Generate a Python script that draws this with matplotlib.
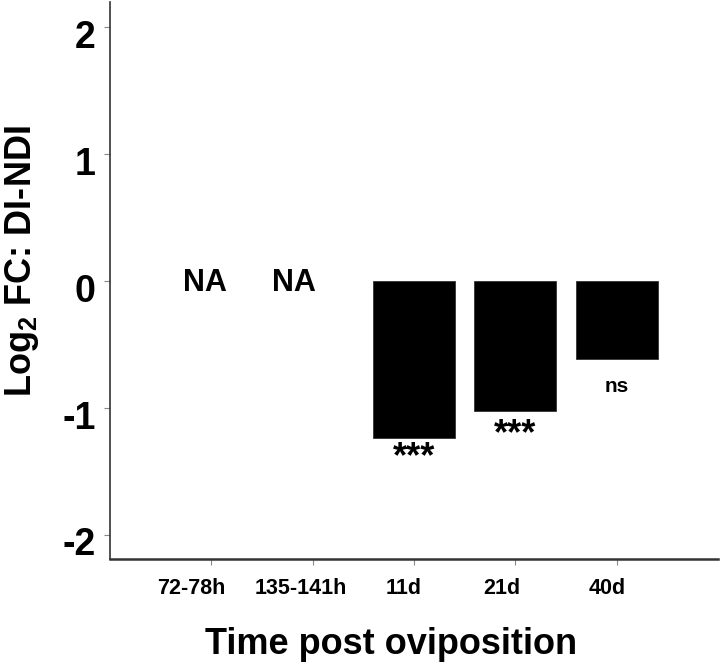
import matplotlib
matplotlib.use("Agg")
import matplotlib.pyplot as plt
from matplotlib.transforms import ScaledTranslation

plt.rcParams['font.family'] = ['Liberation Sans', 'DejaVu Sans']
plt.rcParams['font.weight'] = 'bold'
plt.rcParams['mathtext.fontset'] = 'custom'
plt.rcParams['mathtext.rm'] = 'Liberation Sans:bold'
plt.rcParams['mathtext.bf'] = 'Liberation Sans:bold'
plt.rcParams['mathtext.default'] = 'bf'

# ---- data ----
categories = ["72-78h", "135-141h", "11d", "21d", "40d"]
log2fc = [None, None, -1.24, -1.02, -0.61]
significance = ["NA", "NA", "***", "***", "ns"]
yticks = [-2, -1, 0, 1, 2]

# ---- layout ----
W, H = 720, 665
fig = plt.figure(figsize=(W / 100, H / 100), dpi=100)
ax = fig.add_axes([110 / W, 1 - 559 / H, 608 / W, 557 / H])

positions = list(range(1, len(categories) + 1))
bar_x = [p for p, v in zip(positions, log2fc) if v is not None]
bar_v = [v for v in log2fc if v is not None]
ax.bar(bar_x, bar_v, width=0.81, color='black', edgecolor='#333333', linewidth=0.6)

ax.set_xlim(0, 6)
ax.set_ylim(-2.19, 2.2)

# annotations
na_dx = [-0.06, -0.18]
na_i = 0
for p, v, s in zip(positions, log2fc, significance):
    if v is None:
        ax.annotate(s, xy=(p + na_dx[na_i], 0), xytext=(0, -7), textcoords='offset points',
                    ha='center', va='baseline', fontsize=22, fontweight='bold')
        na_i += 1
    elif s == "ns":
        ax.annotate(s, xy=(p, v), xytext=(0, -24), textcoords='offset points',
                    ha='center', va='baseline', fontsize=15, fontweight='bold')
    else:
        dy = -20.5 if v < -1.1 else -24
        ax.annotate(s, xy=(p, v), xytext=(0, dy), textcoords='offset points',
                    ha='center', va='baseline', fontsize=26, fontweight='bold')

# ticks
ax.set_xticks(positions)
ax.set_xticklabels(categories, fontsize=15.5, fontweight='bold')
ax.set_yticks(yticks)
ax.set_yticklabels([str(t) for t in yticks], fontsize=27, fontweight='bold')
ax.tick_params(axis='both', color='#888888', length=4.5, width=0.8)
ax.tick_params(axis='y', pad=6)
ax.tick_params(axis='x', pad=9)

xlab_dx = [-14.4, -8.6, -7.2, -10, -6.5]
for lab, dx in zip(ax.get_xticklabels(), xlab_dx):
    lab.set_transform(lab.get_transform() + ScaledTranslation(dx / 72, 0, fig.dpi_scale_trans))
for lab in ax.get_yticklabels():
    lab.set_transform(lab.get_transform() + ScaledTranslation(0, -4.7 / 72, fig.dpi_scale_trans))

for side in ['top', 'right']:
    ax.spines[side].set_visible(False)
ax.spines['left'].set_color('#333333')
ax.spines['left'].set_linewidth(1.2)
ax.spines['bottom'].set_color('#333333')
ax.spines['bottom'].set_linewidth(1.8)

ax.set_xlabel("Time post oviposition", fontsize=26, fontweight='bold', labelpad=20, x=0.462)
ax.set_ylabel(r"Log$_2$ FC: DI-NDI", fontsize=26, fontweight='bold')
ax.yaxis.set_label_coords(-0.114, 0.535)

fig.savefig("out.png", dpi=100)
